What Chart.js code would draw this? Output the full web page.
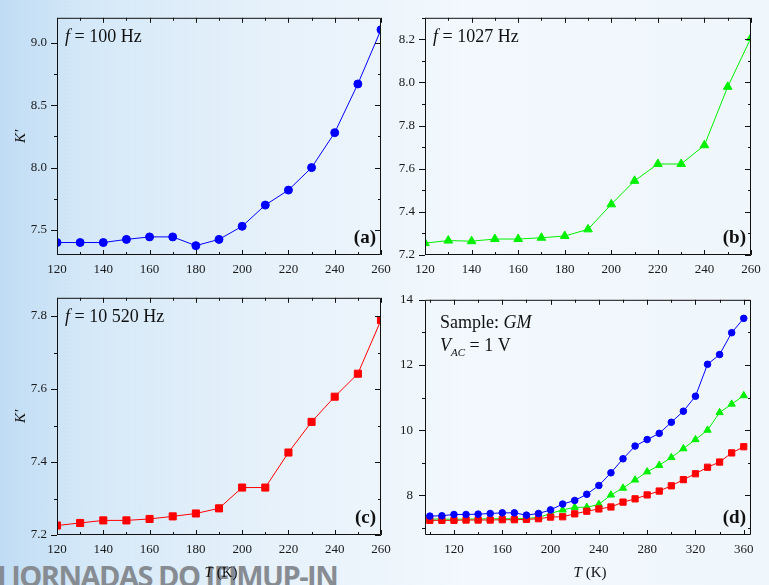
<!DOCTYPE html>
<html>
<head>
<meta charset="utf-8">
<script src="https://cdn.jsdelivr.net/npm/chart.js@4.4.1/dist/chart.umd.min.js"></script>
<style>
  html, body { margin: 0; padding: 0; }
  body {
    width: 769px; height: 585px; overflow: hidden; position: relative;
    background: linear-gradient(90deg, #c0dcf4 0%, #d6e9f8 12%, #e6f1fa 35%, #f2f8fd 60%, #eff6fc 100%);
  }
  .banner {
    position: absolute; left: -3px; top: 561px;
    font: 700 29px/1 "Open Sans", sans-serif; color: #868c92;
    letter-spacing: -1.5px; white-space: nowrap;
  }
  canvas { position: absolute; }
</style>
</head>
<body>
<div class="banner">I JORNADAS DO IFIMUP-IN</div>
<canvas id="chartA" width="400" height="290" style="left:0;top:0"></canvas>
<canvas id="chartB" width="384" height="290" style="left:385px;top:0"></canvas>
<canvas id="chartC" width="400" height="305" style="left:0;top:280px"></canvas>
<canvas id="chartD" width="384" height="305" style="left:385px;top:280px"></canvas>
<script>
// temperatures (K)
const tempShort = [120, 130, 140, 150, 160, 170, 180, 190, 200, 210, 220, 230, 240, 250, 260];
const tempLong = [100, 110, 120, 130, 140, 150, 160, 170, 180, 190, 200, 210, 220, 230,
                  240, 250, 260, 270, 280, 290, 300, 310, 320, 330, 340, 350, 360];

// K' at each frequency, panels a-c
const k100 = [7.40, 7.40, 7.40, 7.425, 7.445, 7.445, 7.375, 7.425, 7.53, 7.70, 7.82, 8.00, 8.28, 8.67, 9.105];
const k1027 = [7.255, 7.267, 7.264, 7.274, 7.274, 7.28, 7.288, 7.319, 7.435, 7.544, 7.622, 7.622, 7.709, 7.98, 8.207];
const k10520 = [7.226, 7.233, 7.240, 7.240, 7.244, 7.251, 7.259, 7.273, 7.330, 7.330, 7.426, 7.510, 7.579, 7.642, 7.789];

// K' over the full range, panel d
const k100Full = [7.36, 7.37, 7.41, 7.41, 7.42, 7.44, 7.46, 7.46, 7.39, 7.44, 7.55, 7.73, 7.84, 8.03,
                  8.30, 8.69, 9.12, 9.51, 9.71, 9.90, 10.24, 10.58, 11.04, 12.02, 12.32, 12.99, 13.43];
const k1027Full = [7.27, 7.27, 7.26, 7.27, 7.27, 7.28, 7.28, 7.28, 7.29, 7.32, 7.44, 7.55, 7.63, 7.63,
                   7.72, 8.01, 8.22, 8.47, 8.72, 8.92, 9.16, 9.43, 9.71, 10.00, 10.54, 10.80, 11.06];
const k10520Full = [7.23, 7.23, 7.23, 7.24, 7.24, 7.24, 7.25, 7.25, 7.26, 7.28, 7.33, 7.34, 7.43, 7.51,
                    7.58, 7.64, 7.79, 7.89, 8.01, 8.13, 8.29, 8.48, 8.66, 8.86, 9.02, 9.30, 9.49];

// tick labels
const xTicksShort = [120, 140, 160, 180, 200, 220, 240, 260];
const xTicksLong = [120, 160, 200, 240, 280, 320, 360];
const yTicksA = [7.5, 8.0, 8.5, 9.0];
const yTicksB = [7.2, 7.4, 7.6, 7.8, 8.0, 8.2];
const yTicksC = [7.2, 7.4, 7.6, 7.8];
const yTicksD = [8, 10, 12, 14];

const SERIF = '"Liberation Serif", "Times New Roman", serif';
const BLUE = '#0000ff', GREEN = '#00f000', RED = '#ff0000';

function points(xs, ys) {
  return xs.map((t, i) => ({ x: t, y: ys[i] }));
}

function series(data, color, shape, radius) {
  return {
    data: data,
    borderColor: color,
    backgroundColor: color,
    borderWidth: 1,
    pointStyle: shape,
    pointRadius: radius,
    pointBorderWidth: 1,
    pointBorderColor: color,
    pointBackgroundColor: color,
    tension: 0,
    clip: 0
  };
}

function steps(min, max, step) {
  const out = [];
  for (let k = Math.ceil(min / step - 1e-9); k * step <= max + 1e-9; k++) {
    out.push(+(k * step).toFixed(4));
  }
  return out;
}

function richText(ctx, x, y, parts) {
  parts.forEach(p => {
    ctx.font = p.font;
    ctx.fillText(p.text, x, y + (p.dy || 0));
    x += ctx.measureText(p.text).width;
  });
}

// frame with mirrored ticks, plus the panel texts
function panelPlugin(cfg) {
  return {
    id: 'panel',
    afterDraw(chart) {
      const { ctx, chartArea: a, scales: { x, y } } = chart;
      ctx.save();
      ctx.strokeStyle = '#111';
      ctx.lineWidth = 1;
      ctx.beginPath();
      ctx.rect(a.left + 0.5, a.top + 0.5, a.right - a.left - 1, a.bottom - a.top - 1);
      steps(x.min, x.max, cfg.xMinor).forEach(v => {
        const len = cfg.xTicks.some(t => Math.abs(t - v) < 1e-6) ? 5 : 3;
        const px = Math.round(x.getPixelForValue(v)) + 0.5;
        ctx.moveTo(px, a.bottom); ctx.lineTo(px, a.bottom - len);
        ctx.moveTo(px, a.top); ctx.lineTo(px, a.top + len);
      });
      steps(y.min, y.max, cfg.yMinor).forEach(v => {
        const len = cfg.yTicks.some(t => Math.abs(t - v) < 1e-6) ? 6 : 3;
        const py = Math.round(y.getPixelForValue(v)) + 0.5;
        ctx.moveTo(a.left, py); ctx.lineTo(a.left - len, py);
        ctx.moveTo(a.right, py); ctx.lineTo(a.right - len, py);
      });
      ctx.stroke();

      ctx.fillStyle = '#111';
      ctx.textBaseline = 'alphabetic';
      ctx.textAlign = 'left';
      cfg.notes.forEach(n => richText(ctx, a.left + n.dx, a.top + n.dy, n.parts));

      ctx.font = 'bold 19px ' + SERIF;
      ctx.textAlign = 'right';
      ctx.fillText(cfg.tag, a.right - 5, a.bottom - 12);

      if (cfg.xTitle) {
        ctx.textAlign = 'left';
        ctx.font = 'italic 15px ' + SERIF;
        const w1 = ctx.measureText('T').width;
        ctx.font = '15px ' + SERIF;
        const w2 = ctx.measureText(' (K)').width;
        const cx = (a.left + a.right) / 2 + 2;
        richText(ctx, cx - (w1 + w2) / 2, chart.height - 8, [
          { text: 'T', font: 'italic 15px ' + SERIF },
          { text: ' (K)', font: '15px ' + SERIF }
        ]);
      }
      if (cfg.yTitle) {
        ctx.translate(25, (a.top + a.bottom) / 2);
        ctx.rotate(-Math.PI / 2);
        ctx.textAlign = 'center';
        ctx.font = 'italic 15px ' + SERIF;
        ctx.fillText('K\u2032', 0, 0);
      }
      ctx.restore();
    }
  };
}

function makePanel(id, opt) {
  new Chart(document.getElementById(id), {
    type: 'line',
    data: { datasets: opt.datasets },
    options: {
      responsive: false,
      animation: false,
      layout: { padding: { top: opt.top, right: opt.right, left: 0, bottom: 0 } },
      plugins: { legend: { display: false }, tooltip: { enabled: false } },
      scales: {
        x: {
          type: 'linear',
          min: opt.xMin, max: opt.xMax,
          grid: { display: false, drawTicks: false },
          border: { display: false },
          afterBuildTicks: s => { s.ticks = opt.xTicks.map(v => ({ value: v })); },
          afterFit: s => { s.height = opt.xHeight; },
          ticks: {
            autoSkip: false, maxRotation: 0, padding: 7,
            color: '#1a1a1a', font: { family: SERIF, size: 13 },
            callback: v => String(v)
          }
        },
        y: {
          type: 'linear',
          min: opt.yMin, max: opt.yMax,
          grid: { display: false, drawTicks: false },
          border: { display: false },
          afterBuildTicks: s => { s.ticks = opt.yTicks.map(v => ({ value: v })); },
          afterFit: s => { s.width = opt.yWidth; },
          ticks: {
            autoSkip: false, padding: opt.yPad,
            color: '#1a1a1a', font: { family: SERIF, size: 13 },
            callback: opt.yFormat
          }
        }
      }
    },
    plugins: [panelPlugin(opt)]
  });
}

const oneDecimal = v => v.toFixed(1);
const freqNote = label => [{ dx: 8, dy: 24, parts: [
  { text: 'f', font: 'italic 18px ' + SERIF },
  { text: ' = ' + label, font: '18px ' + SERIF }
] }];

makePanel('chartA', {
  datasets: [series(points(tempShort, k100), BLUE, 'circle', 4)],
  top: 8, right: 19, xHeight: 35, yWidth: 57, yPad: 10,
  xMin: 120, xMax: 260, yMin: 7.3, yMax: 9.2,
  xTicks: xTicksShort, yTicks: yTicksA, xMinor: 10, yMinor: 0.25,
  yFormat: oneDecimal, tag: '(a)', yTitle: true, xTitle: false,
  notes: freqNote('100 Hz')
});

makePanel('chartB', {
  datasets: [series(points(tempShort, k1027), GREEN, 'triangle', 5)],
  top: 8, right: 18, xHeight: 35, yWidth: 40, yPad: 10,
  xMin: 120, xMax: 260, yMin: 7.2, yMax: 8.3,
  xTicks: xTicksShort, yTicks: yTicksB, xMinor: 10, yMinor: 0.1,
  yFormat: oneDecimal, tag: '(b)', yTitle: false, xTitle: false,
  notes: freqNote('1027 Hz')
});

makePanel('chartC', {
  datasets: [series(points(tempShort, k10520), RED, 'rect', 5)],
  top: 8, right: 19, xHeight: 50, yWidth: 57, yPad: 10,
  xMin: 120, xMax: 260, yMin: 7.2, yMax: 7.85,
  xTicks: xTicksShort, yTicks: yTicksC, xMinor: 10, yMinor: 0.1,
  yFormat: oneDecimal, tag: '(c)', yTitle: true, xTitle: true,
  notes: freqNote('10 520 Hz')
});

makePanel('chartD', {
  datasets: [
    series(points(tempLong, k100Full), BLUE, 'circle', 3.3),
    series(points(tempLong, k10520Full), RED, 'rect', 4.4),
    series(points(tempLong, k1027Full), GREEN, 'triangle', 4.2)
  ],
  top: 9, right: 18, xHeight: 50, yWidth: 40, yPad: 12,
  xMin: 96, xMax: 366, yMin: 6.78, yMax: 14,
  xTicks: xTicksLong, yTicks: yTicksD, xMinor: 20, yMinor: 1,
  yFormat: v => String(v), tag: '(d)', yTitle: false, xTitle: true,
  notes: [
    { dx: 15, dy: 28, parts: [
      { text: 'Sample: ', font: '18px ' + SERIF },
      { text: 'GM', font: 'italic 18px ' + SERIF }
    ] },
    { dx: 15, dy: 51, parts: [
      { text: 'V', font: 'italic 18px ' + SERIF },
      { text: 'AC', font: 'italic 11px ' + SERIF, dy: 5 },
      { text: ' = 1 V', font: '18px ' + SERIF }
    ] }
  ]
});
</script>
</body>
</html>
